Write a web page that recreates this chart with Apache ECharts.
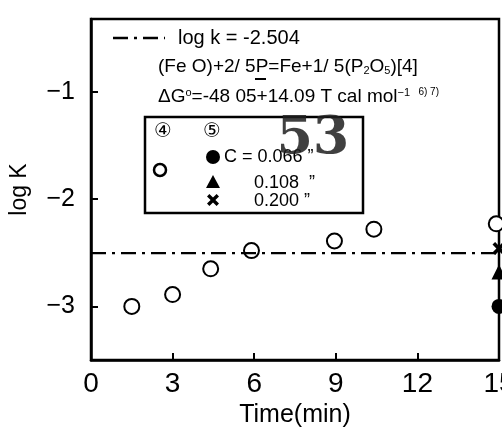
<!DOCTYPE html>
<html>
<head>
<meta charset="utf-8">
<style>html,body{margin:0;padding:0;background:#fff}#c{width:502px;height:428px}</style>
<script src="https://cdn.jsdelivr.net/npm/echarts@6.0.0/dist/echarts.min.js"></script>
</head>
<body>
<div id="c"></div>
<script>
// Series ④ (open circles)
const times4 = [1.5, 3.0, 4.4, 5.9, 8.95, 10.4, 14.9];
const logK4 = [-3.00, -2.89, -2.65, -2.48, -2.39, -2.28, -2.23];
// Series ⑤ at 15 min
const time5 = [15];
const logK5_c0066 = [-3.00];
const logK5_c0108 = [-2.68];
const logK5_c0200 = [-2.46];
// Equilibrium line
const eqX = [0, 15];
const eqLogK = -2.504;
// Ticks
const xTicks = [0, 3, 6, 9, 12, 15];
const yTicks = [-3, -2, -1];

const FONT = '"Liberation Sans", "DejaVu Sans", sans-serif';
const CFONT = '"DejaVu Sans", "Noto Sans CJK JP", sans-serif';
const pairs = (xs, ys) => xs.map((x, i) => [x, ys[i]]);
const xMark = 'path://M0,2 L2,0 L5,3 L8,0 L10,2 L7,5 L10,8 L8,10 L5,7 L2,10 L0,8 L3,5 Z';
const xPoly = (cx, cy, s) => [[0,2],[2,0],[5,3],[8,0],[10,2],[7,5],[10,8],[8,10],[5,7],[2,10],[0,8],[3,5]]
  .map(p => [cx + (p[0] - 5) * s, cy + (p[1] - 5) * s]);

const chart = echarts.init(document.getElementById('c'), null, {renderer: 'canvas'});
chart.setOption({
  backgroundColor: '#fff',
  animation: false,
  grid: {left: 91, top: 19, right: 3, bottom: 68, containLabel: false, outerBoundsMode: 'none',
         show: true, borderColor: '#000', borderWidth: 2.5, backgroundColor: 'transparent'},
  xAxis: {
    type: 'value', min: xTicks[0], max: xTicks[xTicks.length - 1], interval: 3,
    name: 'Time(min)', nameLocation: 'middle', nameGap: 42,
    nameTextStyle: {fontFamily: FONT, fontSize: 25, color: '#000'},
    axisLine: {show: true, lineStyle: {color: '#000', width: 2.5}},
    axisTick: {show: true, inside: true, length: 7, lineStyle: {color: '#000', width: 2}},
    axisLabel: {fontFamily: FONT, fontSize: 28, color: '#000', margin: 10, hideOverlap: false},
    splitLine: {show: false}
  },
  yAxis: {
    type: 'value', min: -3.5, max: -0.32,
    name: 'log K', nameLocation: 'middle', nameGap: 60, nameRotate: 90,
    nameTextStyle: {fontFamily: FONT, fontSize: 23, color: '#000'},
    axisLine: {show: true, lineStyle: {color: '#000', width: 2.5}},
    axisTick: {show: true, inside: true, length: 7, customValues: yTicks, lineStyle: {color: '#000', width: 2}},
    axisLabel: {fontFamily: FONT, fontSize: 25, color: '#000', margin: 16, customValues: yTicks,
      formatter: v => (v < 0 ? '\u2212' : '') + Math.abs(v)},
    splitLine: {show: false}
  },
  series: [
    {type: 'line', data: eqX.map(x => [x, eqLogK]), symbol: 'none', silent: true,
     lineStyle: {color: '#000', width: 2.2, type: [15, 6, 3, 6]}},
    {type: 'scatter', data: pairs(times4, logK4), symbol: 'emptyCircle', symbolSize: 15,
     itemStyle: {color: '#000', borderColor: '#000', borderWidth: 2.5, opacity: 1}},
    {type: 'scatter', data: pairs(time5, logK5_c0066), symbol: 'circle', symbolSize: 15, clip: false,
     itemStyle: {color: '#000', opacity: 1}},
    {type: 'scatter', data: pairs(time5, logK5_c0108), symbol: 'triangle', symbolSize: 15, clip: false,
     itemStyle: {color: '#000', opacity: 1}},
    {type: 'scatter', data: pairs(time5, logK5_c0200), symbol: xMark, symbolSize: 13, clip: false,
     itemStyle: {color: '#000', opacity: 1}}
  ],
  graphic: [
    // header legend line
    {type: 'line', shape: {x1: 113, y1: 38, x2: 165, y2: 38}, style: {stroke: '#000', lineWidth: 2.5, lineDash: [15, 6, 3, 6]}},
    {type: 'text', x: 178, y: 38, style: {text: 'log k = -2.504', fontFamily: FONT, fontSize: 20, fill: '#000', verticalAlign: 'middle'}},
    {type: 'text', x: 158, y: 67, style: {
      text: '{a|(Fe O)+2/ 5}{a|P}{a|=Fe+1/ 5(P}{s|2}{a|O}{s|5}{a|)[4]}',
      fontFamily: FONT, verticalAlign: 'middle', fill: '#000',
      rich: {a: {fontFamily: FONT, fontSize: 19, fill: '#000', verticalAlign: 'bottom'},
             s: {fontFamily: FONT, fontSize: 11, fill: '#000', verticalAlign: 'bottom'}}}},
    {type: 'line', shape: {x1: 255, y1: 79, x2: 266, y2: 79}, style: {stroke: '#000', lineWidth: 2}},
    {type: 'text', x: 158, y: 97, style: {
      text: '{a|\u0394G}{p|o}{a|=-48 05+14.09 T cal mol}{p|\u22121}{q|   6) 7)}',
      fontFamily: FONT, verticalAlign: 'middle', fill: '#000',
      rich: {a: {fontFamily: FONT, fontSize: 19, fill: '#000', verticalAlign: 'bottom'},
             p: {fontFamily: FONT, fontSize: 11, fill: '#000', verticalAlign: 'top'},
             q: {fontFamily: FONT, fontSize: 10, fill: '#000', verticalAlign: 'top'}}}},
    // legend box
    {type: 'rect', shape: {x: 145, y: 117, width: 218, height: 96}, style: {fill: '#fff', stroke: '#000', lineWidth: 2.5}},
    {type: 'text', x: 163, y: 132, style: {text: '\u2463', fontFamily: CFONT, fontSize: 20, fill: '#000', align: 'center', verticalAlign: 'middle'}},
    {type: 'text', x: 212, y: 132, style: {text: '\u2464', fontFamily: CFONT, fontSize: 20, fill: '#000', align: 'center', verticalAlign: 'middle'}},
    {type: 'circle', shape: {cx: 160, cy: 170, r: 6}, style: {fill: '#fff', stroke: '#000', lineWidth: 2.5}},
    {type: 'circle', shape: {cx: 213, cy: 157, r: 7}, style: {fill: '#000'}},
    {type: 'polygon', shape: {points: [[213, 175], [220, 188], [206, 188]]}, style: {fill: '#000'}},
    {type: 'polygon', shape: {points: xPoly(213, 200, 1.2)}, style: {fill: '#000'}},
    {type: 'text', x: 224, y: 157, style: {text: 'C = 0.066 \u201D', fontFamily: FONT, fontSize: 18, fill: '#000', verticalAlign: 'middle'}},
    {type: 'text', x: 254, y: 183, style: {text: '0.108  \u201D', fontFamily: FONT, fontSize: 18, fill: '#000', verticalAlign: 'middle'}},
    {type: 'text', x: 254, y: 201, style: {text: '0.200 \u201D', fontFamily: FONT, fontSize: 18, fill: '#000', verticalAlign: 'middle'}},
    // stamp
    {type: 'text', x: 313, y: 139, style: {text: '53', fontFamily: '"DejaVu Serif", serif', fontWeight: 'bold', fontSize: 52, fill: 'rgba(30,30,30,0.85)', align: 'center', verticalAlign: 'middle'}}
  ]
});
</script>
</body>
</html>
